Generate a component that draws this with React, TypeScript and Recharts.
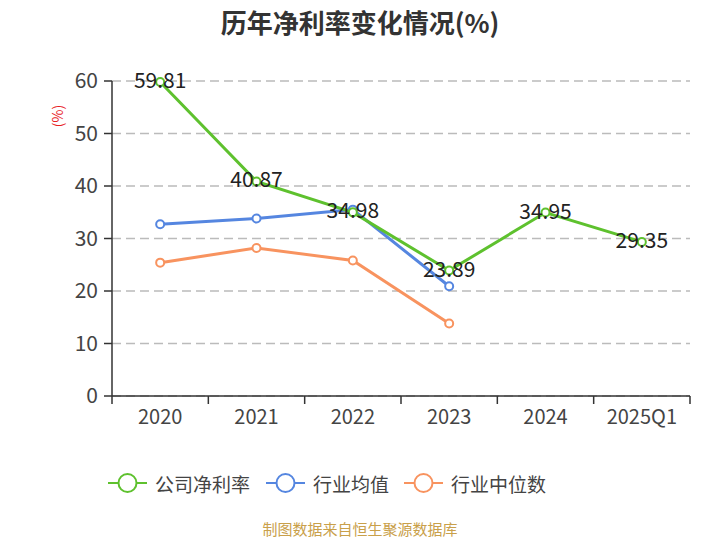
import React from 'react';
import { LineChart, Line, XAxis, YAxis, CartesianGrid, LabelList } from 'recharts';

const categories = ['2020', '2021', '2022', '2023', '2024', '2025Q1'];
const companyRate = [59.81, 40.87, 34.98, 23.89, 34.95, 29.35];
const industryAvg = [32.7, 33.8, 35.5, 20.9, null, null];
const industryMedian = [25.4, 28.2, 25.8, 13.8, null, null];
const yTicks = [0, 10, 20, 30, 40, 50, 60];

const SERIES = [
  { key: 'company', name: '公司净利率', color: '#5ec12e' },
  { key: 'avg', name: '行业均值', color: '#5586e0' },
  { key: 'median', name: '行业中位数', color: '#f8935f' },
];

const FONT = '"Noto Sans CJK SC", "Noto Sans", sans-serif';

const data = categories.map((c, i) => ({
  year: c,
  company: companyRate[i],
  avg: industryAvg[i],
  median: industryMedian[i],
}));

// tick label plus a small tick mark on the band edges
const XTick = (props: any) => {
  const { x, y, payload, index, visibleTicksCount } = props;
  const half = payload && payload.offset ? payload.offset : 578 / 12;
  const last = index === visibleTicksCount - 1;
  return (
    <g>
      <line x1={x - half} y1={y - 8} x2={x - half} y2={y} stroke="#333" strokeWidth={1.5} />
      {last && <line x1={x + half} y1={y - 8} x2={x + half} y2={y} stroke="#333" strokeWidth={1.5} />}
      <text x={x} y={y + 20} textAnchor="middle" fill="#444" fontSize={20} fontFamily={FONT}>
        {payload.value}
      </text>
    </g>
  );
};

const ValueLabel = (props: any) => {
  const { x, y, value } = props;
  if (value == null) return null;
  return (
    <text x={x} y={y - 3} textAnchor="middle" dominantBaseline="central" fill="#222" fontSize={21} fontFamily={FONT}>
      {value.toFixed(2)}
    </text>
  );
};

const LegendRow = () => {
  const xs = [108, 266, 404];
  return (
    <svg width={720} height={40} style={{ position: 'absolute', left: 0, top: 463 }}>
      {SERIES.map((s, i) => (
        <g key={s.key}>
          <line x1={xs[i]} y1={20} x2={xs[i] + 39} y2={20} stroke={s.color} strokeWidth={2} />
          <circle cx={xs[i] + 19.5} cy={20} r={9} fill="#fff" stroke={s.color} strokeWidth={2} />
          <text x={xs[i] + 47} y={20} dominantBaseline="central" fill="#444" fontSize={19} fontFamily={FONT}>
            {s.name}
          </text>
        </g>
      ))}
    </svg>
  );
};

export default function App() {
  return (
    <div style={{ position: 'absolute', left: 0, top: 0, width: 720, height: 540, background: '#fff', fontFamily: FONT }}>
      <LineChart width={720} height={540} data={data} margin={{ top: 81, right: 30, bottom: 114, left: 52 }}>
        <CartesianGrid vertical={false} stroke="#bbb" strokeDasharray="9 5" strokeWidth={1.5} />
        <XAxis
          dataKey="year"
          scale="band"
          height={30}
          tickLine={false}
          axisLine={{ stroke: '#333', strokeWidth: 1.5 }}
          tick={<XTick />}
          interval={0}
        />
        <YAxis
          width={60}
          domain={[0, 60]}
          ticks={yTicks}
          axisLine={{ stroke: '#333', strokeWidth: 1.5 }}
          tickLine={{ stroke: '#333', strokeWidth: 1.5 }}
          tickSize={8}
          tickMargin={6}
          tick={{ fill: '#444', fontSize: 21, fontFamily: FONT }}
        />
        <Line
          dataKey="median"
          name="行业中位数"
          type="linear"
          stroke={SERIES[2].color}
          strokeWidth={3}
          dot={{ r: 4, fill: '#fff', stroke: SERIES[2].color, strokeWidth: 2 }}
          isAnimationActive={false}
        />
        <Line
          dataKey="avg"
          name="行业均值"
          type="linear"
          stroke={SERIES[1].color}
          strokeWidth={3}
          dot={{ r: 4, fill: '#fff', stroke: SERIES[1].color, strokeWidth: 2 }}
          isAnimationActive={false}
        />
        <Line
          dataKey="company"
          name="公司净利率"
          type="linear"
          stroke={SERIES[0].color}
          strokeWidth={3}
          dot={{ r: 4, fill: '#fff', stroke: SERIES[0].color, strokeWidth: 2 }}
          isAnimationActive={false}
        >
          <LabelList dataKey="company" content={<ValueLabel />} />
        </Line>
      </LineChart>
      <div style={{ position: 'absolute', top: 3, width: 720, textAlign: 'center', fontSize: 26, fontWeight: 'bold', color: '#333' }}>
        历年净利率变化情况(%)
      </div>
      <div
        style={{
          position: 'absolute', left: 46, top: 106, color: '#e8201e', fontSize: 14,
          transform: 'rotate(-90deg)', transformOrigin: 'center',
        }}
      >
        (%)
      </div>
      <LegendRow />
      <div style={{ position: 'absolute', top: 518, width: 720, textAlign: 'center', fontSize: 15, color: '#c9a04a' }}>
        制图数据来自恒生聚源数据库
      </div>
    </div>
  );
}
